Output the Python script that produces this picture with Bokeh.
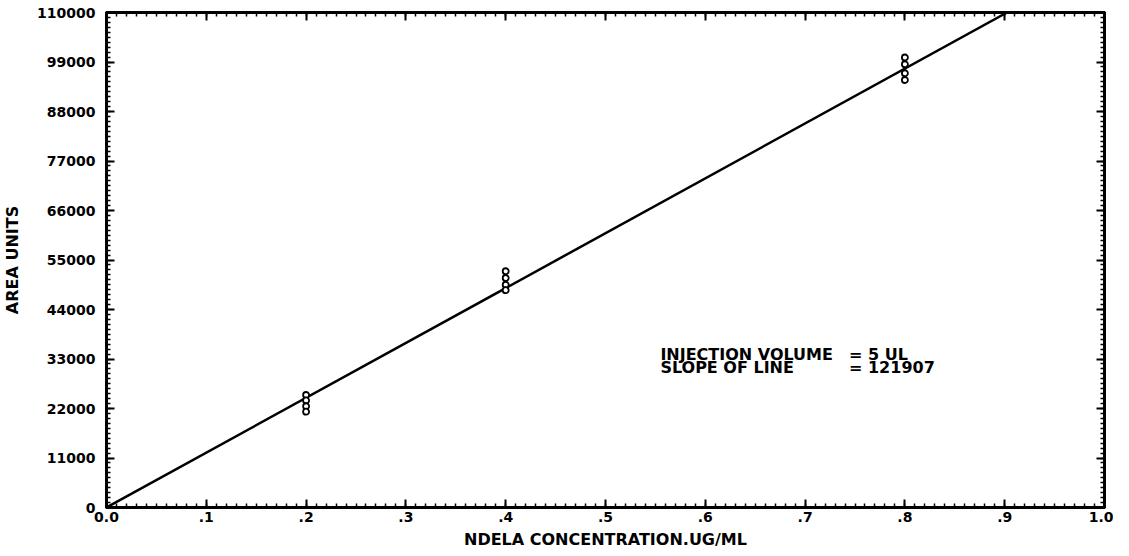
import numpy as np
from bokeh.plotting import figure
from bokeh.models import LinearAxis, FixedTicker, Range1d, Label
from bokeh.embed import file_html
from bokeh.resources import INLINE

# ---- data ----
conc = [0.2, 0.2, 0.2, 0.2, 0.4, 0.4, 0.4, 0.4, 0.8, 0.8, 0.8, 0.8]
area = [25000, 23800, 22500, 21300, 52500, 51000, 49500, 48300, 100000, 98500, 96500, 95000]
slope = 121907
y_max = 110000

x_ticks = [0.0, 0.1, 0.2, 0.3, 0.4, 0.5, 0.6, 0.7, 0.8, 0.9, 1.0]
x_labels = ["0.0", ".1", ".2", ".3", ".4", ".5", ".6", ".7", ".8", ".9", "1.0"]
y_ticks = [0, 11000, 22000, 33000, 44000, 55000, 66000, 77000, 88000, 99000, 110000]
y_labels = ["0", "11000", "22000", "33000", "44000", "55000", "66000", "77000", "88000", "99000", "110000"]

note_left = ["INJECTION VOLUME", "SLOPE OF LINE"]
note_right = ["= 5 UL", "= 121907"]

FONT = "DejaVu Sans"

p = figure(width=1113, height=551, output_backend="svg", toolbar_location=None,
           x_range=Range1d(0, 1.0), y_range=Range1d(0, y_max),
           min_border_left=103, min_border_right=9, min_border_top=12, min_border_bottom=41)
p.xgrid.visible = False
p.ygrid.visible = False
p.outline_line_color = "black"
p.outline_line_width = 3
p.background_fill_color = "white"
p.border_fill_color = "white"

x_minor = [round(v, 2) for v in np.arange(0, 1.0001, 0.01)]
y_minor = [int(v) for v in np.arange(0, y_max + 1, 1100)]
xt = FixedTicker(ticks=x_ticks, minor_ticks=x_minor)
yt = FixedTicker(ticks=y_ticks, minor_ticks=y_minor)


def style(ax, labels=True):
    ax.axis_line_width = 3
    ax.axis_line_color = "black"
    ax.major_tick_in = 8
    ax.major_tick_out = 0
    ax.minor_tick_in = 4
    ax.minor_tick_out = 1
    ax.major_tick_line_width = 2
    ax.minor_tick_line_width = 1.5
    if labels:
        ax.major_label_text_font = FONT
        ax.major_label_text_font_style = "bold"
        ax.major_label_text_font_size = "14px"
        ax.major_label_text_color = "black"
        ax.axis_label_text_font = FONT
        ax.axis_label_text_font_style = "bold"
        ax.axis_label_text_font_size = "16px"
        ax.axis_label_text_color = "black"
    else:
        ax.major_label_text_font_size = "0px"
        ax.major_label_standoff = 0


xa = p.xaxis[0]
xa.ticker = xt
xa.major_label_overrides = dict(zip(x_ticks, x_labels))
xa.axis_label = "NDELA CONCENTRATION.UG/ML"
style(xa)
xa.major_label_standoff = 3
xa.axis_label_standoff = 5

ya = p.yaxis[0]
ya.ticker = yt
ya.major_label_overrides = dict(zip(y_ticks, y_labels))
ya.axis_label = "AREA UNITS"
style(ya)
ya.major_label_standoff = 10
ya.axis_label_standoff = 12
ya.major_label_orientation = "horizontal"

ra = LinearAxis(ticker=yt)
ra.major_label_overrides = {t: "" for t in y_ticks}
style(ra, labels=False)
p.add_layout(ra, "right")

ta = LinearAxis(ticker=xt)
ta.major_label_overrides = {t: "" for t in x_ticks}
style(ta, labels=False)
p.add_layout(ta, "above")

# fitted line through origin
line_x = [0.0, y_max / slope]
line_y = [0.0, y_max]
p.line(line_x, line_y, line_color="black", line_width=2.5)

# data points
p.scatter(conc, area, marker="circle", size=6, fill_color="white",
          line_color="black", line_width=1.8)

# annotation
for i, (a, b) in enumerate(zip(note_left, note_right)):
    yv = 34000 - i * 2900
    p.add_layout(Label(x=0.555, y=yv, text=a, text_font=FONT, text_font_style="bold",
                       text_font_size="16px", text_color="black", text_baseline="middle"))
    p.add_layout(Label(x=0.744, y=yv, text=b, text_font=FONT, text_font_style="bold",
                       text_font_size="16px", text_color="black", text_baseline="middle"))

open("out.html", "w").write(file_html(p, INLINE))
